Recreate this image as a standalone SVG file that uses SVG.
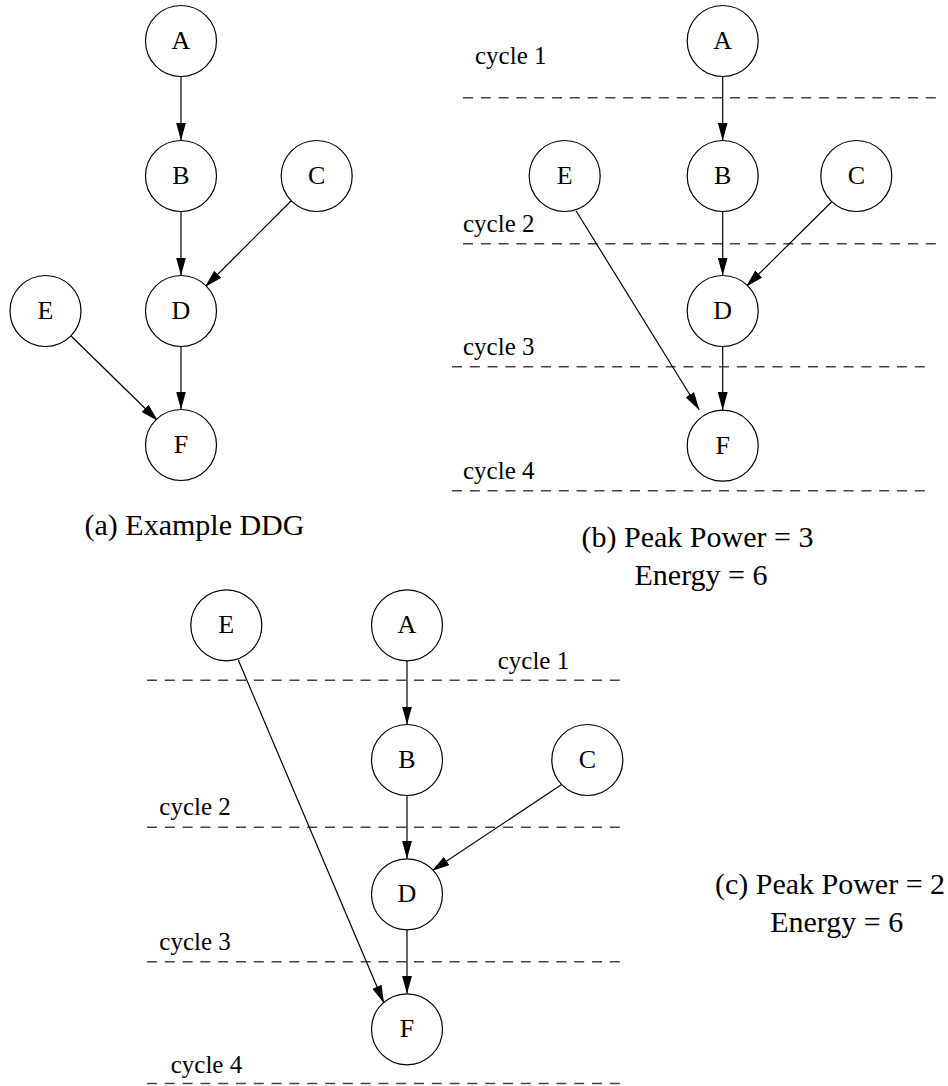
<svg xmlns="http://www.w3.org/2000/svg" width="948" height="1086" viewBox="0 0 948 1086">
<style>
.n{fill:#fff;stroke:#000;stroke-width:1.2}
.t{font-family:"Liberation Serif",serif;font-size:26px;fill:#000;text-anchor:middle}
.cy{font-family:"Liberation Serif",serif;font-size:25px;fill:#000}
.cap{font-family:"Liberation Serif",serif;font-size:30px;fill:#000;text-anchor:middle}
.d{stroke:#444;stroke-width:1.4;stroke-dasharray:10 7.8;fill:none}
.e{stroke:#000;stroke-width:1.2;fill:none;marker-end:url(#ah)}
</style>
<defs>
<marker id="ah" markerUnits="userSpaceOnUse" markerWidth="18" markerHeight="10" refX="18" refY="5" orient="auto">
<path d="M0,0 L18,5 L0,10 z" fill="#000"/>
</marker>
</defs>
<rect width="948" height="1086" fill="#fff"/>

<g id="cycles">
<line class="d" x1="463" y1="97.7" x2="942" y2="97.7"/>
<line class="d" x1="463" y1="243.7" x2="942" y2="243.7"/>
<line class="d" x1="452" y1="366.7" x2="930" y2="366.7"/>
<line class="d" x1="452" y1="490.7" x2="930" y2="490.7"/>
<text class="cy" x="475" y="63.5">cycle 1</text>
<text class="cy" x="463" y="231.5">cycle 2</text>
<text class="cy" x="463" y="355">cycle 3</text>
<text class="cy" x="463" y="478.5">cycle 4</text>
<line class="d" x1="147" y1="680.3" x2="626" y2="680.3"/>
<line class="d" x1="147" y1="827.3" x2="626" y2="827.3"/>
<line class="d" x1="147" y1="961.7" x2="626" y2="961.7"/>
<line class="d" x1="147" y1="1083.5" x2="626" y2="1083.5"/>
<text class="cy" x="497.7" y="669.3">cycle 1</text>
<text class="cy" x="159.3" y="815.3">cycle 2</text>
<text class="cy" x="159.3" y="950">cycle 3</text>
<text class="cy" x="170.7" y="1073.3">cycle 4</text>
</g>

<g id="connectors">
<line class="e" x1="181" y1="76.5" x2="181" y2="140.5"/>
<line class="e" x1="181" y1="211.5" x2="181" y2="275.5"/>
<line class="e" x1="293" y1="199" x2="205" y2="287"/>
<line class="e" x1="181" y1="346.5" x2="181" y2="409.5"/>
<line class="e" x1="68" y1="333" x2="158" y2="421"/>

<line class="e" x1="722.7" y1="76.5" x2="722.7" y2="140.5"/>
<line class="e" x1="722.7" y1="211.5" x2="722.7" y2="275.5"/>
<line class="e" x1="834.3" y1="199.3" x2="746" y2="286.7"/>
<line class="e" x1="722.7" y1="346.5" x2="722.7" y2="410"/>
<line class="e" x1="576" y1="210.7" x2="699.3" y2="410"/>

<line class="e" x1="407" y1="660.8" x2="407" y2="724.5"/>
<line class="e" x1="407" y1="795.5" x2="407" y2="858.8"/>
<line class="e" x1="565" y1="782.3" x2="431.7" y2="871"/>
<line class="e" x1="407" y1="929.8" x2="407" y2="993.8"/>
<line class="e" x1="238.3" y1="660" x2="384" y2="1003.3"/>
</g>

<g id="a-A"><circle class="n" cx="181" cy="41" r="35.5"/><text class="t" x="181" y="49">A</text></g>
<g id="a-B"><circle class="n" cx="181" cy="176" r="35.5"/><text class="t" x="181" y="184">B</text></g>
<g id="a-C"><circle class="n" cx="316.7" cy="176" r="35.5"/><text class="t" x="316.7" y="184">C</text></g>
<g id="a-D"><circle class="n" cx="181" cy="311" r="35.5"/><text class="t" x="181" y="319">D</text></g>
<g id="a-E"><circle class="n" cx="45.5" cy="311" r="35.5"/><text class="t" x="45.5" y="319">E</text></g>
<g id="a-F"><circle class="n" cx="181" cy="445" r="35.5"/><text class="t" x="181" y="453">F</text></g>

<g id="b-A"><circle class="n" cx="722.7" cy="41" r="35.5"/><text class="t" x="722.7" y="49">A</text></g>
<g id="b-E"><circle class="n" cx="564.7" cy="176" r="35.5"/><text class="t" x="564.7" y="184">E</text></g>
<g id="b-B"><circle class="n" cx="722.7" cy="176" r="35.5"/><text class="t" x="722.7" y="184">B</text></g>
<g id="b-C"><circle class="n" cx="856.3" cy="176" r="35.5"/><text class="t" x="856.3" y="184">C</text></g>
<g id="b-D"><circle class="n" cx="722.7" cy="311" r="35.5"/><text class="t" x="722.7" y="319">D</text></g>
<g id="b-F"><circle class="n" cx="722.7" cy="445.7" r="35.5"/><text class="t" x="722.7" y="453.7">F</text></g>

<g id="c-E"><circle class="n" cx="226.3" cy="625.3" r="35.5"/><text class="t" x="226.3" y="633.3">E</text></g>
<g id="c-A"><circle class="n" cx="407" cy="625.3" r="35.5"/><text class="t" x="407" y="633.3">A</text></g>
<g id="c-B"><circle class="n" cx="407" cy="760" r="35.5"/><text class="t" x="407" y="768">B</text></g>
<g id="c-C"><circle class="n" cx="587.3" cy="760" r="35.5"/><text class="t" x="587.3" y="768">C</text></g>
<g id="c-D"><circle class="n" cx="407" cy="894.3" r="35.5"/><text class="t" x="407" y="902.3">D</text></g>
<g id="c-F"><circle class="n" cx="407" cy="1029.3" r="35.5"/><text class="t" x="407" y="1037.3">F</text></g>

<g id="captions">
<text class="cap" x="194.5" y="535">(a) Example DDG</text>
<text class="cap" x="697.5" y="546.7">(b) Peak Power = 3</text>
<text class="cap" x="701" y="585">Energy = 6</text>
<text class="cap" x="830" y="894">(c) Peak Power = 2</text>
<text class="cap" x="836.7" y="931.7">Energy = 6</text>
</g>
</svg>
